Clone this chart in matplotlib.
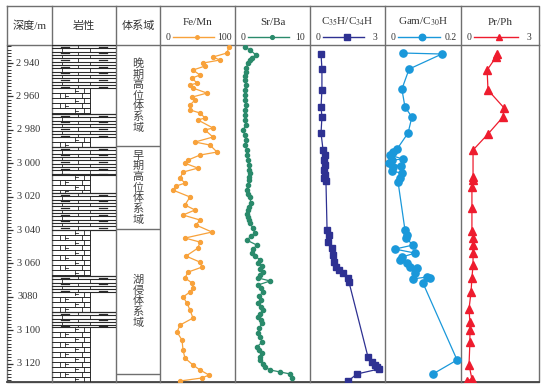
import matplotlib
matplotlib.use('Agg')
import matplotlib.pyplot as plt
import numpy as np
from matplotlib.ticker import MultipleLocator

plt.rcParams['font.family'] = ['Liberation Serif', 'Noto Sans CJK SC']
plt.rcParams['mathtext.fontset'] = 'stix'

# ---- data ----
depth_ticks = [2940, 2960, 2980, 3000, 3020, 3040, 3060, 3080, 3100, 3120]
depth_labels = ['2 940', '2 960', '2 980', '3 000', '3 020', '3 040', '3 060', '3080', '3 100', '3 120']

lith_tops = [2929.2, 2955.0, 2970.5, 2984.3, 2990.3, 3007.0, 3017.8, 3040.0, 3067.5, 3077.0, 3089.0, 3098.0]
lith_bots = [2955.0, 2970.5, 2984.3, 2990.3, 3007.0, 3017.8, 3040.0, 3067.5, 3077.0, 3089.0, 3098.0, 3131.0]
lith_type = ['marl', 'dolo', 'marl', 'dolo', 'marl', 'dolo', 'marl', 'dolo', 'marl', 'dolo', 'marl', 'dolo']

tract_names = ['晚期高位体系域', '早期高位体系域', '湖侵体系域', '']
tract_bounds = [2929.2, 2989.7, 3039.5, 3126.0, 3131.0]

fe_depth = [2930.4, 2934.0, 2936.4, 2938.2, 2940.0, 2941.8, 2944.2, 2947.2, 2949.0, 2952.0, 2953.2, 2955.0,
            2958.0, 2960.4, 2962.2, 2965.1, 2968.1, 2969.9, 2972.9, 2974.1, 2978.9, 2980.1, 2984.3, 2987.3,
            2989.1, 2993.3, 2995.1, 2998.1, 3000.0, 3002.9, 3005.3, 3008.9, 3011.9, 3013.7, 3016.1, 3020.2,
            3025.0, 3028.0, 3031.0, 3034.0, 3037.0, 3041.2, 3044.8, 3047.2, 3050.8, 3055.6, 3059.2, 3062.2,
            3065.2, 3068.7, 3071.7, 3074.7, 3077.1, 3080.1, 3083.7, 3087.9, 3092.7, 3096.9, 3101.1, 3105.9,
            3111.9, 3116.7, 3120.8, 3123.8, 3126.8, 3128.6, 3130.4]
fe_mn = [98.5, 95.5, 74.6, 85.0, 59.7, 62.7, 44.8, 55.2, 43.3, 50.7, 40.3, 44.8,
         65.7, 43.3, 47.8, 40.3, 40.3, 55.2, 62.7, 52.2, 74.6, 62.7, 74.6, 47.8,
         70.1, 80.6, 55.2, 37.3, 32.8, 52.2, 29.9, 25.4, 32.8, 19.4, 14.9, 40.3,
         32.8, 47.8, 29.9, 55.2, 49.3, 73.1, 32.8, 55.2, 52.2, 34.3, 55.2, 58.2,
         37.3, 32.8, 43.3, 44.8, 40.3, 29.9, 35.8, 40.3, 44.8, 25.4, 20.9, 28.4,
         29.9, 32.8, 44.8, 55.2, 68.7, 58.2, 25.4]

sr_depth = [2930.4, 2932.2, 2935.2, 2937.0, 2938.2, 2940.0, 2943.0, 2945.4, 2947.8, 2950.2, 2953.2, 2956.2,
            2959.2, 2962.2, 2965.1, 2968.1, 2971.1, 2974.1, 2977.1, 2980.1, 2983.1, 2986.1, 2989.1, 2992.1,
            2995.1, 2998.1, 3001.1, 3004.1, 3005.9, 3008.3, 3010.1, 3013.1, 3016.1, 3018.4, 3020.2, 3023.8,
            3026.2, 3028.0, 3030.4, 3032.2, 3034.0, 3035.8, 3038.8, 3041.8, 3043.6, 3046.0, 3049.0, 3051.4,
            3053.8, 3055.6, 3058.0, 3059.8, 3061.6, 3063.4, 3065.2, 3067.0, 3068.7, 3070.5, 3072.9, 3074.7,
            3077.1, 3079.5, 3081.9, 3083.7, 3086.1, 3087.9, 3090.3, 3092.1, 3093.9, 3095.7, 3098.7, 3101.7,
            3104.1, 3107.1, 3110.1, 3111.9, 3113.7, 3116.1, 3117.8, 3120.2, 3122.0, 3123.8, 3125.0, 3126.2,
            3128.6]
sr_ba = [1.0, 1.8, 2.7, 2.1, 1.8, 1.5, 1.2, 1.2, 1.0, 1.1, 1.2, 1.0,
         1.1, 1.0, 1.2, 1.1, 1.0, 1.1, 1.2, 0.75, 1.0, 1.2, 1.1, 1.3,
         1.3, 1.5, 1.6, 1.7, 1.8, 1.6, 1.6, 1.5, 1.3, 1.5, 1.8, 1.9,
         1.6, 1.5, 1.4, 1.5, 1.6, 1.8, 2.2, 2.5, 2.0, 1.3, 2.8, 2.3,
         2.1, 2.6, 3.3, 3.0, 3.6, 3.3, 3.7, 3.3, 3.0, 4.8, 3.0, 3.5,
         3.7, 3.2, 3.5, 3.0, 3.4, 3.7, 3.3, 3.0, 3.4, 3.6, 3.2, 3.0,
         3.3, 3.6, 2.8, 3.2, 3.6, 3.3, 3.3, 3.7, 4.0, 4.8, 6.3, 7.8,
         8.1]

c35_depth = [2934.6, 2943.6, 2956.2, 2966.3, 2972.3, 2981.9, 2992.1, 2995.1, 2998.1, 3001.1, 3004.1, 3007.1,
             3008.9, 3010.7, 3040.0, 3043.0, 3047.2, 3050.8, 3055.0, 3059.2, 3062.2, 3064.0, 3065.8, 3068.7,
             3071.1, 3115.9, 3118.9, 3120.8, 3122.0, 3123.2, 3126.2, 3130.4]
c35_c34 = [0.36, 0.40, 0.40, 0.36, 0.40, 0.36, 0.45, 0.54, 0.49, 0.54, 0.49, 0.54,
           0.49, 0.58, 0.63, 0.72, 0.67, 0.85, 0.90, 0.94, 1.03, 1.16, 1.34, 1.57,
           1.61, 2.46, 2.64, 2.78, 2.87, 2.96, 1.97, 1.57]

gam_depth = [2934.0, 2934.6, 2943.6, 2955.6, 2966.3, 2972.3, 2981.9, 2991.5, 2993.3, 2995.1, 2997.5, 2998.1,
             3000.0, 3001.7, 3002.3, 3004.7, 3005.9, 3008.9, 3011.3, 3040.0, 3043.0, 3044.8, 3049.0, 3051.4,
             3053.8, 3056.2, 3058.0, 3059.8, 3062.2, 3062.8, 3065.8, 3069.3, 3068.1, 3068.7, 3071.7, 3117.8,
             3126.2]
gam_c30 = [0.049, 0.162, 0.067, 0.046, 0.055, 0.075, 0.064, 0.032, 0.020, 0.012, 0.049, 0.017,
           0.009, 0.043, 0.020, 0.017, 0.046, 0.041, 0.035, 0.055, 0.061, 0.058, 0.078, 0.026,
           0.084, 0.046, 0.041, 0.061, 0.070, 0.090, 0.084, 0.078, 0.119, 0.128, 0.107, 0.206,
           0.136]

pr_depth = [2934.6, 2936.4, 2944.2, 2956.2, 2966.9, 2972.3, 2982.5, 2992.1, 3008.3, 3010.1, 3014.3, 3026.8,
            3040.6, 3044.8, 3049.0, 3053.8, 3061.0, 3068.7, 3077.1, 3087.3, 3095.1, 3099.9, 3107.1, 3120.8,
            3129.2, 3130.4]
pr_ph = [1.43, 1.39, 0.99, 1.03, 1.75, 1.70, 1.03, 0.36, 0.36, 0.36, 0.31, 0.31,
         0.31, 0.36, 0.36, 0.36, 0.36, 0.31, 0.27, 0.18, 0.22, 0.22, 0.22, 0.18,
         0.31, 0.09]

# ---- layout (pixels) ----
W, H = 544, 389
TOP, HEAD, BOT = 6, 45, 382
LEFT, RIGHT = 7, 539
col_x = [7, 52, 116, 160, 235, 310, 385, 461, 539]
dmin, dmax = 2929.2, 3131.0
line_c = '#6f6f6f'
txt_c = '#333333'


def rect(x0, y0, x1, y1):
    return [x0 / W, 1 - y1 / H, (x1 - x0) / W, (y1 - y0) / H]


fig = plt.figure(figsize=(W / 100, H / 100), dpi=100)
bg = fig.add_axes([0, 0, 1, 1])
bg.set_xlim(0, W)
bg.set_ylim(H, 0)
bg.axis('off')

# table frame
bg.plot([LEFT, RIGHT, RIGHT, LEFT, LEFT], [TOP, TOP, BOT, BOT, TOP], color=line_c, lw=1)
bg.plot([LEFT, RIGHT], [BOT, BOT], color='#444444', lw=1.3)
bg.plot([LEFT, RIGHT], [HEAD, HEAD], color=line_c, lw=1)
for x in col_x[1:-1]:
    bg.plot([x, x], [TOP, BOT], color=line_c, lw=1)

for x0, x1, name in zip(col_x[:3], col_x[1:4], ['深度/m', '岩性', '体系域']):
    bg.text((x0 + x1) / 2, 26, name, ha='center', va='center', fontsize=8, color=txt_c)

# data columns
series = [
    ('Fe/Mn', fe_mn, fe_depth, '#f8a23b', 'o', 2.8, (0, 100), '0', '100', (-4.48, 107.5)),
    ('Sr/Ba', sr_ba, sr_depth, '#2a8a6b', 'o', 3.0, (0, 10), '0', '10', (-0.448, 10.75)),
    ('C$_{35}$H/C$_{34}$H', c35_c34, c35_depth, '#2e3192', 's', 4.2, (0, 3), '0', '3', (-0.134, 3.224)),
    ('Gam/C$_{30}$H', gam_c30, gam_depth, '#1a98da', 'o', 5.2, (0, 0.2), '0', '0.2', (-0.0029, 0.2174)),
    ('Pr/Ph', pr_ph, pr_depth, '#ee1c2e', '^', 5.2, (0, 3), '0', '3', (-0.179, 3.313)),
]

for i, (name, vals, deps, col, mk, ms, rng, l0, l1, xl) in enumerate(series):
    x0, x1 = col_x[3 + i], col_x[4 + i]
    bg.text((x0 + x1) / 2, 22, name, ha='center', va='center', fontsize=8, color=txt_c)
    bg.text(x0 + 8, 37, l0, ha='center', va='center', fontsize=7, color=txt_c)
    bg.text(x1 - 10, 37, l1, ha='center', va='center', fontsize=7, color=txt_c)
    lx0, lx1 = x0 + 13, x1 - 21
    bg.plot([lx0, lx1], [37, 37], color=col, lw=1)
    bg.plot([(lx0 + lx1) / 2 + 3], [37], marker=mk, color=col, ms=ms * 0.9)

    ax = fig.add_axes(rect(x0, HEAD, x1, BOT))
    ax.patch.set_alpha(0)
    ax.set_xlim(*xl)
    ax.set_ylim(dmax, dmin)
    ax.axis('off')
    ax.plot(vals, deps, color=col, lw=0.9, marker=mk, ms=ms, mec=col, mfc=col)

# depth scale
axd = fig.add_axes(rect(col_x[0], HEAD, col_x[1], BOT))
axd.patch.set_alpha(0)
axd.set_ylim(dmax, dmin)
axd.set_xlim(0, 1)
for s in axd.spines.values():
    s.set_visible(False)
axd.set_xticks([])
axd.set_yticks(depth_ticks)
axd.yaxis.set_minor_locator(MultipleLocator(2))
axd.tick_params(axis='y', which='major', direction='in', length=4.5, width=0.9, color='#333333', labelleft=False)
axd.tick_params(axis='y', which='minor', direction='in', length=3, width=0.7, color='#333333')
for d, lab in zip(depth_ticks, depth_labels):
    axd.text(0.47, d, lab, transform=axd.get_yaxis_transform(), ha='center', va='center',
             fontsize=7.5, color=txt_c)

# lithology column
axl = fig.add_axes(rect(col_x[1], HEAD, col_x[2], BOT))
axl.patch.set_alpha(0)
axl.set_xlim(0, 64)
axl.set_ylim(dmax, dmin)
axl.axis('off')
lc = '#2a2a2a'
for top, bot, kind in zip(lith_tops, lith_bots, lith_type):
    if kind == 'marl':
        rows = np.arange(top, bot, 2.0)
        axl.plot([0, 64], [top, top], color=lc, lw=0.9)
        for j, r in enumerate(rows):
            rb = min(r + 2.0, bot)
            axl.plot([0, 64], [rb, rb], color=lc, lw=0.8)
            if j % 2 == 0:
                axl.plot([26, 26], [r, rb], color=lc, lw=0.6)
                for cx in (13, 51):
                    axl.plot([cx - 4, cx + 4], [(r + rb) / 2] * 2, color=lc, lw=0.9)
            else:
                for vx in (10, 38):
                    axl.plot([vx, vx], [r, rb], color=lc, lw=0.6)
    else:
        rows = np.arange(top, bot, 3.0)
        axl.plot([38, 38], [top, bot], color=lc, lw=0.7)
        for j, r in enumerate(rows):
            rb = min(r + 3.0, bot)
            axl.plot([0, 38], [rb, rb], color=lc, lw=0.7)
            if j % 2 == 0:
                joints, marks = (32,), (23,)
            else:
                joints, marks = (8, 30), (13,)
            for vx in joints:
                axl.plot([vx, vx], [r, rb], color=lc, lw=0.6)
            for mx in marks:
                axl.plot([mx, mx], [r + 0.8, rb - 0.8], color=lc, lw=0.6)
                axl.plot([mx, mx + 3], [(r + rb) / 2] * 2, color=lc, lw=0.6)

# systems tract column
axt = fig.add_axes(rect(col_x[2], HEAD, col_x[3], BOT))
axt.patch.set_alpha(0)
axt.set_xlim(0, 1)
axt.set_ylim(dmax, dmin)
axt.axis('off')
for b in tract_bounds[1:-1]:
    axt.plot([0, 1], [b, b], color=line_c, lw=1)
for name, t, b in zip(tract_names, tract_bounds[:-1], tract_bounds[1:]):
    if name:
        axt.text(0.5, (t + b) / 2, '\n'.join(name), ha='center', va='center', fontsize=8,
                 linespacing=1.05, color='#444444')

fig.savefig('out.png', dpi=100)
